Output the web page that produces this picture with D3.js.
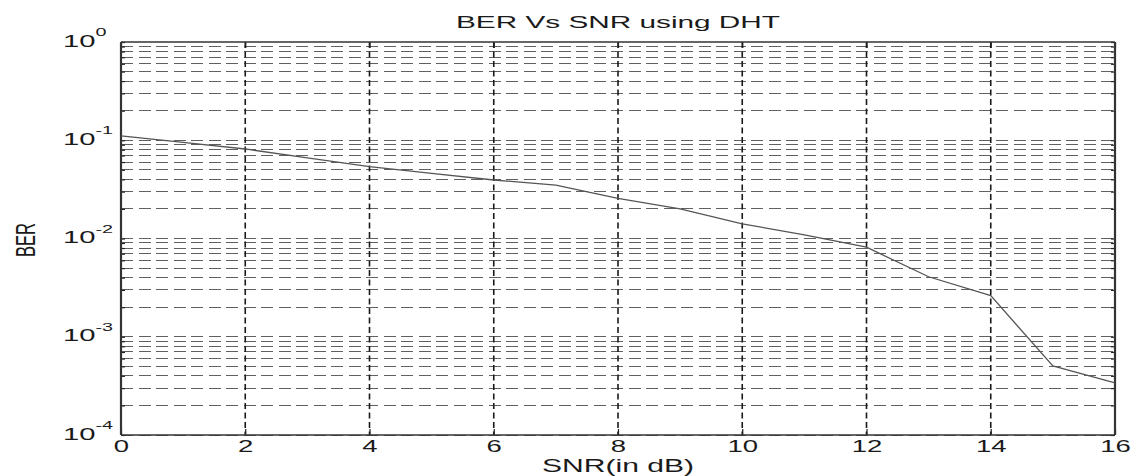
<!DOCTYPE html>
<html>
<head>
<meta charset="utf-8">
<script src="https://cdn.jsdelivr.net/npm/d3@7"></script>
<style>
  html, body { margin: 0; padding: 0; background: #fff; }
  svg { display: block; }
  text { font-family: "Liberation Sans", Arial, Helvetica, sans-serif; fill: #1a1a1a; }
</style>
</head>
<body>
<script>
// ---- data ----
const snr = [0, 1, 2, 3, 4, 5, 6, 7, 8, 9, 10, 11, 12, 13, 14, 15, 16];
const ber = [0.111, 0.095, 0.0815, 0.0662, 0.0538, 0.0461, 0.0394, 0.0350, 0.0256,
             0.0200, 0.0141, 0.0109, 0.00815, 0.00408, 0.00262, 0.000504, 0.00034];
const xTicks = [0, 2, 4, 6, 8, 10, 12, 14, 16];
const yTicks = [1e-4, 1e-3, 1e-2, 1e-1, 1];
const yExponents = ["-4", "-3", "-2", "-1", "0"];
const titleText = "BER Vs SNR using DHT";
const xLabelText = "SNR(in dB)";
const yLabelText = "BER";

// ---- layout ----
const W = 1134, H = 476;
const mLeft = 121, mRight = 1115, mTop = 42, mBottom = 435;
const SX = 1.72; // horizontal stretch of the text in the reference

const svg = d3.select("body").append("svg").attr("width", W).attr("height", H);

const x = d3.scaleLinear().domain([0, 16]).range([mLeft, mRight]);
const y = d3.scaleLog().domain([1e-4, 1]).range([mBottom, mTop]);

// minor/major horizontal grid values
const yGrid = [];
for (let e = -4; e < 0; e++) {
  for (let m = 1; m <= 9; m++) yGrid.push(m * Math.pow(10, e));
}

// horizontal grid
svg.append("g").selectAll("line").data(yGrid).join("line")
  .attr("x1", mLeft).attr("x2", mRight)
  .attr("y1", d => y(d)).attr("y2", d => y(d))
  .attr("stroke", "#606060").attr("stroke-width", 1)
  .attr("stroke-dasharray", "12,5.5")
  .attr("shape-rendering", "crispEdges");

// vertical grid
svg.append("g").selectAll("line").data(xTicks.filter(d => d > 0 && d < 16)).join("line")
  .attr("x1", d => x(d)).attr("x2", d => x(d))
  .attr("y1", mTop).attr("y2", mBottom)
  .attr("stroke", "#1a1a1a").attr("stroke-width", 1.6)
  .attr("stroke-dasharray", "6,3.5");

// axes with inward ticks
const gx = svg.append("g").attr("transform", `translate(0,${mBottom})`)
  .call(d3.axisBottom(x).tickValues(xTicks).tickSizeInner(-6).tickSizeOuter(0).tickFormat(""));
const gxTop = svg.append("g").attr("transform", `translate(0,${mTop})`)
  .call(d3.axisTop(x).tickValues(xTicks).tickSizeInner(-6).tickSizeOuter(0).tickFormat(""));
const gy = svg.append("g").attr("transform", `translate(${mLeft},0)`)
  .call(d3.axisLeft(y).tickValues(yGrid.concat([1])).tickSizeInner(-4).tickSizeOuter(0).tickFormat(""));
const gyR = svg.append("g").attr("transform", `translate(${mRight},0)`)
  .call(d3.axisRight(y).tickValues(yGrid.concat([1])).tickSizeInner(-4).tickSizeOuter(0).tickFormat(""));
[gx, gxTop, gy, gyR].forEach(g => {
  g.select(".domain").remove();
  g.selectAll(".tick line").attr("stroke", "#222").attr("stroke-width", 1.2);
});

// box
svg.append("line").attr("x1", mLeft).attr("x2", mRight).attr("y1", mTop).attr("y2", mTop)
  .attr("stroke", "#333").attr("stroke-width", 1.3);
svg.append("line").attr("x1", mLeft).attr("x2", mRight).attr("y1", mBottom).attr("y2", mBottom)
  .attr("stroke", "#333").attr("stroke-width", 1.3);
svg.append("line").attr("x1", mLeft).attr("x2", mLeft).attr("y1", mTop).attr("y2", mBottom)
  .attr("stroke", "#333").attr("stroke-width", 2.2);
svg.append("line").attr("x1", mRight).attr("x2", mRight).attr("y1", mTop).attr("y2", mBottom)
  .attr("stroke", "#333").attr("stroke-width", 2.2);

// data line
const line = d3.line().x((d, i) => x(snr[i])).y(d => y(d));
svg.append("path").datum(ber)
  .attr("d", line)
  .attr("fill", "none")
  .attr("stroke", "#555")
  .attr("stroke-width", 1.3);

// x tick labels
gx.selectAll(".tick").each(function(d) {
  d3.select(this).append("g")
    .attr("transform", `translate(0,17) scale(${SX},1)`)
    .append("text")
    .attr("text-anchor", "middle")
    .attr("font-size", 16)
    .text(d);
});

// y tick labels (10^e)
gy.selectAll(".tick").filter(d => yTicks.some(t => Math.abs(Math.log10(t) - Math.log10(d)) < 1e-9))
  .each(function(d) {
    const idx = yTicks.findIndex(t => Math.abs(Math.log10(t) - Math.log10(d)) < 1e-9);
    const t = d3.select(this).append("g")
      .attr("transform", `translate(${63 - mLeft},4) scale(${SX},1)`)
      .append("text")
      .attr("text-anchor", "start")
      .attr("font-size", 17);
    t.append("tspan").text("10");
    t.append("tspan").attr("dy", -10.5).attr("font-size", 11.5).text(yExponents[idx]);
  });

// title
svg.append("g").attr("transform", `translate(${(mLeft + mRight) / 2},28) scale(${SX},1)`)
  .append("text").attr("text-anchor", "middle").attr("font-size", 17.3).text(titleText);

// x label
svg.append("g").attr("transform", `translate(${(mLeft + mRight) / 2},472) scale(${SX},1)`)
  .append("text").attr("text-anchor", "middle").attr("font-size", 17.5).text(xLabelText);

// y label
svg.append("g").attr("transform", `translate(35,240) scale(${SX},1) rotate(-90)`)
  .append("text").attr("text-anchor", "middle").attr("font-size", 16.5).text(yLabelText);
</script>
</body>
</html>
